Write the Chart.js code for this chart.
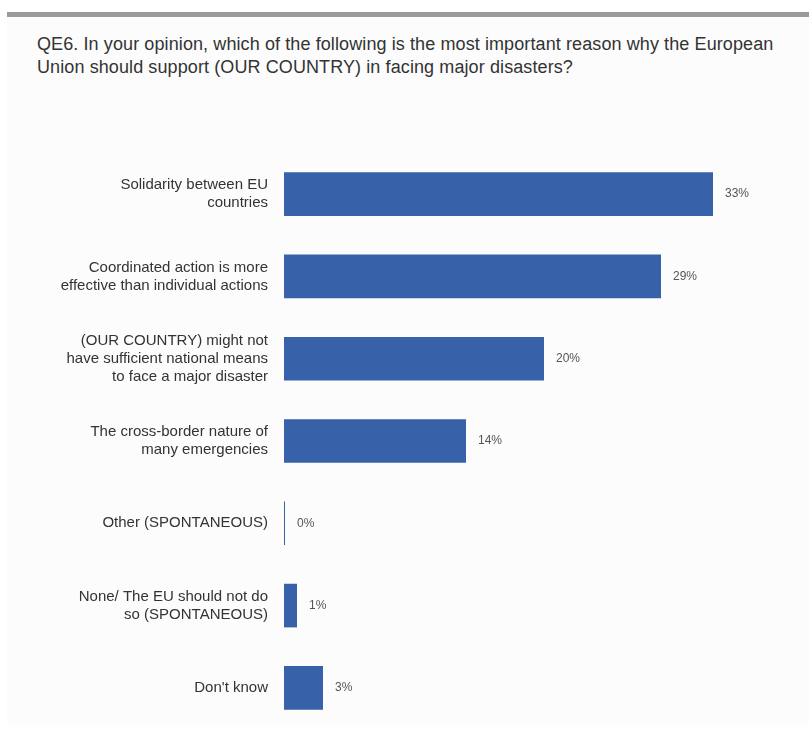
<!DOCTYPE html>
<html>
<head>
<meta charset="utf-8">
<script src="https://cdn.jsdelivr.net/npm/chart.js@4.4.1/dist/chart.umd.min.js"></script>
<style>
  html, body { margin: 0; padding: 0; background: #fff; }
  body { width: 809px; height: 731px; position: relative; overflow: hidden; }
  #frame {
    position: absolute; left: 7px; top: 12px; right: 0; bottom: 6px;
    border-top: 5px solid #9a9a9a; background: #fcfcfc;
  }
  #title {
    position: absolute; left: 37px; top: 33px; width: 770px;
    font-family: "Liberation Sans", Arial, sans-serif;
    font-size: 18px; line-height: 23px; color: #333; letter-spacing: 0.1px;
  }
  #chart { position: absolute; left: 0; top: 0; }
</style>
</head>
<body>
<div id="frame"></div>
<div id="title">QE6. In your opinion, which of the following is the most important reason why the European<br>Union should support (OUR COUNTRY) in facing major disasters?</div>
<canvas id="chart" width="809" height="731"></canvas>
<script>
// answer options (multi-line as in the source chart)
const categories = [
	["Solidarity between EU", "countries"],
	["Coordinated action is more", "effective than individual actions"],
	["(OUR COUNTRY) might not", "have sufficient national means", "to face a major disaster"],
	["The cross-border nature of", "many emergencies"],
	"Other (SPONTANEOUS)",
	["None/ The EU should not do", "so (SPONTANEOUS)"],
	"Don't know",
];
// share of respondents, %
const shares = [33, 29, 20, 14, 0, 1, 3];

const barColor = "#3761a8";

// writes "33%" etc. just right of each bar
const valueLabels = {
	id: "valueLabels",
	afterDatasetsDraw(chart) {
		const ctx = chart.ctx;
		const meta = chart.getDatasetMeta(0);
		ctx.save();
		ctx.font = '12px "Liberation Sans", sans-serif';
		ctx.fillStyle = "#555";
		ctx.textBaseline = "middle";
		meta.data.forEach((bar, i) => {
			ctx.fillText(shares[i] + "%", bar.x + 12, bar.y);
		});
		ctx.restore();
	},
};

const ctx = document.getElementById("chart").getContext("2d");
new Chart(ctx, {
	type: "bar",
	data: {
		labels: categories,
		datasets: [
			{
				data: shares,
				backgroundColor: barColor,
				borderWidth: 0,
				minBarLength: 1, // the 0% bar still shows as a hairline
				barPercentage: 0.53,
				categoryPercentage: 1,
			},
		],
	},
	options: {
		indexAxis: "y",
		responsive: false,
		animation: false,
		layout: { padding: { top: 153, bottom: 2, left: 0, right: 5 } },
		scales: {
			x: { display: false, min: 0, max: 40 },
			y: {
				grid: { display: false, drawTicks: false },
				border: { display: false },
				afterFit: (scale) => {
					scale.width = 284;
					// don't let the label heights eat into the plot height
					scale.paddingTop = 0;
					scale.paddingBottom = 0;
				},
				ticks: {
					padding: 16,
					color: "#333",
					font: { family: '"Liberation Sans", sans-serif', size: 15, lineHeight: 1.2 },
				},
			},
		},
		plugins: {
			legend: { display: false },
			tooltip: { enabled: false },
		},
	},
	plugins: [valueLabels],
});
</script>
</body>
</html>
